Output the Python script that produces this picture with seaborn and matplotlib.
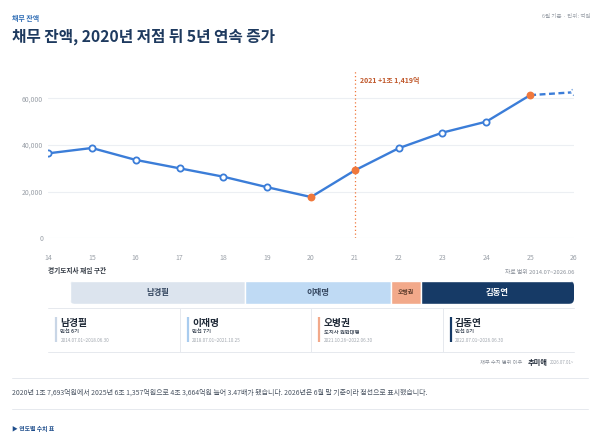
import matplotlib
matplotlib.use("Agg")
import matplotlib.pyplot as plt
import seaborn as sns
import pandas as pd
from matplotlib.patches import FancyBboxPatch
from matplotlib.lines import Line2D

# ---- data -------------------------------------------------------------
years = [14, 15, 16, 17, 18, 19, 20, 21, 22, 23, 24, 25, 26]
debt = [36400, 38700, 33600, 30000, 26400, 21900, 17693, 29112,
        38600, 45300, 50000, 61357, 62600]
highlight_years = [20, 21, 25]
partial_year = 26                      # 2026 is June-end figure (dashed)

term_names = ["남경필", "이재명", "오병권", "김동연"]
term_start = [14.5, 18.5, 21.82, 22.5]
term_end = [18.5, 21.82, 22.5, 26.5]
term_roles = ["민선 6기", "민선 7기", "도지사 권한대행", "민선 8기"]
term_dates = ["2014.07.01~2018.06.30", "2018.07.01~2021.10.25",
              "2021.10.26~2022.06.30", "2022.07.01~2026.06.30"]
y_ticks = [0, 20000, 40000, 60000]

# ---- style ------------------------------------------------------------
BLUE = "#3B7DD8"
ORANGE = "#F0783C"
NAVY = "#1E3A5F"
GRID = "#ECEFF3"
TICK = "#9AA0A8"
term_colors = ["#DCE4EE", "#BFDAF4", "#F2A98A", "#163A66"]
term_accent = ["#C9D6E6", "#A9CCEF", "#F2A98A", "#163A66"]
term_text = ["#34465F", "#34465F", "#5A3A2A", "white"]

sns.set_theme(style="white")
plt.rcParams["font.family"] = ["Noto Sans CJK KR", "DejaVu Sans"]

W, H = 600, 433
fig = plt.figure(figsize=(W / 100, H / 100), dpi=100)
fig.patch.set_facecolor("white")


def px(x, y):
    return x / W, 1 - y / H


def ftext(x, y, s, **kw):
    fx, fy = px(x, y)
    fig.text(fx, fy, s, **kw)


def hline(x0, x1, y, color="#E6E9EE", lw=0.7):
    (a, b), (c, _) = px(x0, y), px(x1, y)
    fig.add_artist(Line2D([a, c], [b, b], color=color, lw=lw))


# ---- header -----------------------------------------------------------
ftext(12, 18, "채무 잔액", fontsize=5, color="#2F6DB5", fontweight="bold", va="center")
ftext(12, 37, "채무 잔액, 2020년 저점 뒤 5년 연속 증가", fontsize=11.3,
      color=NAVY, fontweight="bold", va="center")
ftext(590, 17, "6월 기준 · 단위: 억원", fontsize=4, color="#9AA0A8",
      ha="right", va="center")

# ---- main line chart --------------------------------------------------
AX_L, AX_R, AX_T, AX_B = 48, 574, 70.3, 238.3
ax = fig.add_axes([AX_L / W, 1 - AX_B / H, (AX_R - AX_L) / W, (AX_B - AX_T) / H])
df = pd.DataFrame({"year": years, "debt": debt})
solid = df[df["year"] < partial_year]
dashed = df[df["year"] >= partial_year - 1]

sns.lineplot(data=solid, x="year", y="debt", ax=ax, color=BLUE, lw=1.7)
sns.lineplot(data=dashed, x="year", y="debt", ax=ax, color=BLUE, lw=1.7,
             linestyle=(0, (2.5, 1.5)))
normal = solid[~solid["year"].isin(highlight_years)]
sns.scatterplot(data=normal, x="year", y="debt", ax=ax, s=20, color="white",
                edgecolor=BLUE, linewidth=1.3, zorder=5)
hi = df[df["year"].isin(highlight_years)]
sns.scatterplot(data=hi, x="year", y="debt", ax=ax, s=32, color=ORANGE,
                edgecolor=ORANGE, linewidth=0, zorder=6)
last = df[df["year"] == partial_year]
ax.scatter(last["year"], last["debt"], s=20, facecolor="white",
           edgecolor="#7FA9E0", linewidth=1.0, linestyle=":", zorder=6)

ax.axvline(21, color=ORANGE, lw=0.9, linestyle=(0, (1, 2)), zorder=1)
ax.annotate("2021 +1조 1,419억", xy=(21, 1), xycoords=("data", "axes fraction"),
            xytext=(3.5, -7), textcoords="offset points", fontsize=5,
            color="#C0582B", fontweight="bold", va="center")

ax.set_xlim(14, 26)
ax.set_ylim(0, 72000)
ax.set_yticks(y_ticks)
ax.set_yticklabels([f"{v:,}" for v in y_ticks])
ax.set_xticks(years)
ax.set_xticklabels([str(y) for y in years])
ax.tick_params(axis="y", labelsize=5, colors=TICK, length=0, pad=3.5)
ax.tick_params(axis="x", labelsize=5, colors=TICK, length=0, pad=11)
for t in ax.get_xticklabels() + ax.get_yticklabels():
    t.set_color(TICK)
ax.grid(axis="y", color=GRID, lw=0.8)
ax.grid(axis="x", visible=False)
ax.set_axisbelow(True)
ax.set_xlabel("")
ax.set_ylabel("")
sns.despine(ax=ax, left=True, bottom=True)

# ---- term band --------------------------------------------------------
ftext(48, 271, "경기도지사 재임 구간", fontsize=4.8, color="#333A44",
      fontweight="bold", va="center")
ftext(574, 272, "자료 범위 2014.07~2026.06", fontsize=4.2, color="#8A9099",
      ha="right", va="center")

BT, BB = 280.7, 304
bax = fig.add_axes([AX_L / W, 1 - BB / H, (AX_R - AX_L) / W, (BB - BT) / H])
bax.set_xlim(14, 26)
bax.set_ylim(0, 1)
bax.axis("off")
aspect = (43.83) / (BB - BT)
clip = FancyBboxPatch((term_start[0], 0), 26 - term_start[0], 1,
                      boxstyle="round,pad=0,rounding_size=0.12",
                      mutation_aspect=aspect, transform=bax.transData,
                      facecolor="none", edgecolor="none")
bax.add_patch(clip)
bars = bax.barh([0.5] * 4, [e - s for s, e in zip(term_start, term_end)],
                left=term_start, height=1, color=term_colors)
for b in bars:
    b.set_clip_path(clip)
for name, s, e, c in zip(term_names, term_start, term_end, term_text):
    mid = (s + min(e, 26)) / 2
    fs = 4.2 if name == "오병권" else 6
    bax.text(mid, 0.5, name, ha="center", va="center", fontsize=fs,
             color=c, fontweight="bold")

# ---- term cards -------------------------------------------------------
CT, CB = 308, 352
cax = fig.add_axes([AX_L / W, 1 - CB / H, (AX_R - AX_L) / W, (CB - CT) / H])
cax.set_xlim(0, 4)
cax.set_ylim(CB - CT, 0)
cax.axis("off")
hline(AX_L, AX_R, CT)
hline(AX_L, AX_R, CB)
card_w = (AX_R - AX_L) / 4
for i in range(1, 4):
    cax.vlines(i, 0, CB - CT, color="#E6E9EE", lw=0.7)
for i, (name, role, dates, acc) in enumerate(
        zip(term_names, term_roles, term_dates, term_accent)):
    cax.vlines(i + 8 / card_w, 9, 34, color=acc, lw=1.6)
    cax.text(i + 12.5 / card_w, 15, name, fontsize=7, fontweight="bold",
             color="#1F2937", va="center")
    cax.text(i + 12.5 / card_w, 23.5, role, fontsize=3.8, color="#4B5563",
             va="center", fontweight="bold")
    cax.text(i + 12.5 / card_w, 32, dates, fontsize=3.3, color="#A0A6AE",
             va="center")

ftext(522, 362.5, "채무 수치 범위 이후", fontsize=3.8, color="#8A9099",
      ha="right", va="center")
ftext(528, 362.5, "추미애", fontsize=5.2, color="#1F2937", fontweight="bold",
      va="center")
ftext(574, 363, "2026.07.01~", fontsize=3.1, color="#A0A6AE", ha="right",
      va="center")

# ---- footer -----------------------------------------------------------
hline(12, 588, 378)
ftext(12, 393, "2020년 1조 7,693억원에서 2025년 6조 1,357억원으로 4조 3,664억원 늘어 "
      "3.47배가 됐습니다. 2026년은 6월 말 기준이라 점선으로 표시했습니다.",
      fontsize=5.0, color="#4B5563", va="center")
hline(12, 588, 409)
ftext(12, 429, "▶ 연도별 수치 표", fontsize=4.2, color="#1F4E8C",
      fontweight="bold", va="center")

fig.savefig("out.png", dpi=100, facecolor="white")
